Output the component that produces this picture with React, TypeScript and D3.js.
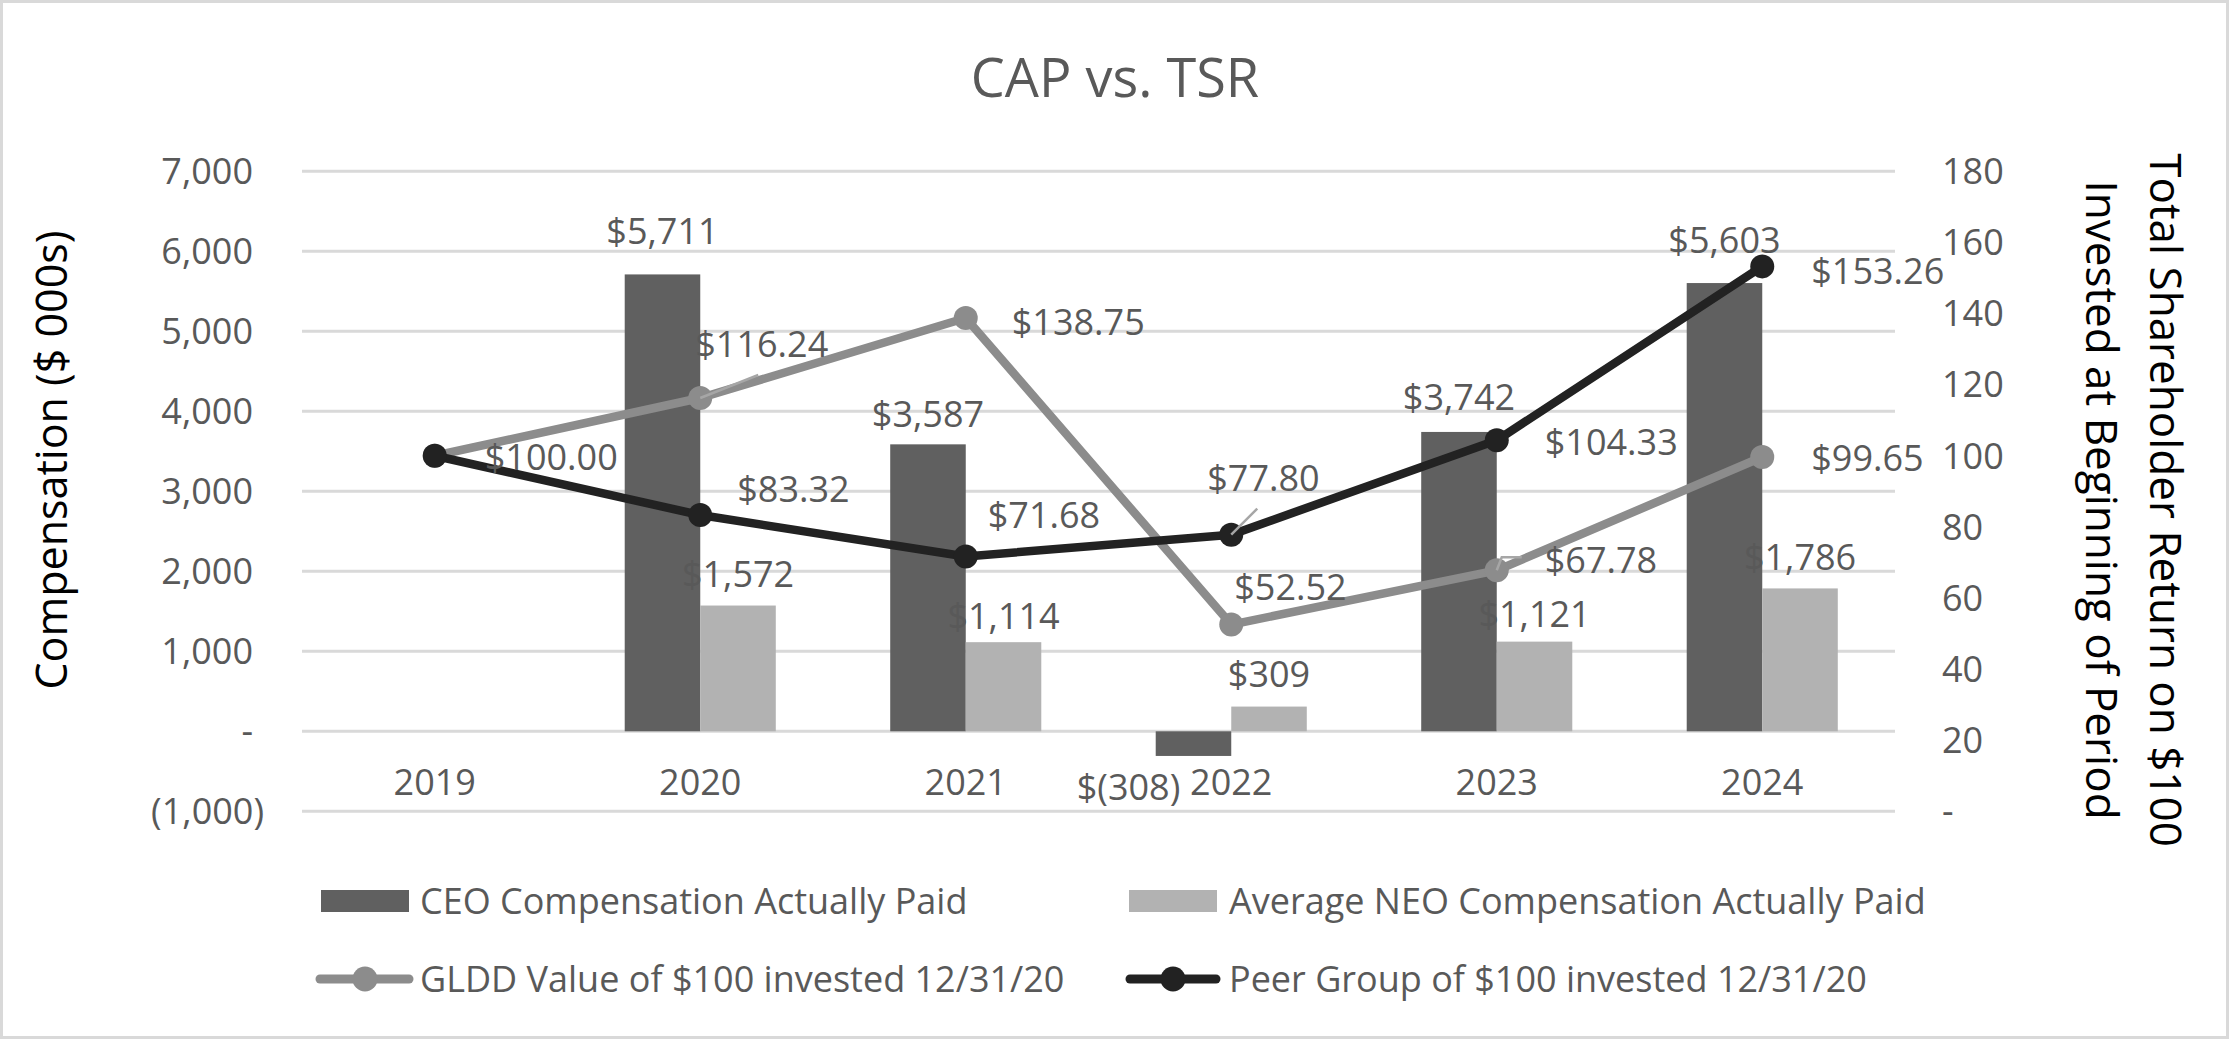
import React, { useEffect } from 'react';
import * as d3 from 'd3';

// ---------- data ----------
const years = ['2019', '2020', '2021', '2022', '2023', '2024'];
const ceoCap: (number | null)[] = [null, 5711, 3587, -308, 3742, 5603];
const neoCap: (number | null)[] = [null, 1572, 1114, 309, 1121, 1786];
const glddTsr = [100, 116.24, 138.75, 52.52, 67.78, 99.65];
const peerTsr = [100, 83.32, 71.68, 77.8, 104.33, 153.26];
const leftTicks = [-1000, 0, 1000, 2000, 3000, 4000, 5000, 6000, 7000];
const rightTicks = [0, 20, 40, 60, 80, 100, 120, 140, 160, 180];
const seriesNames = [
  'CEO Compensation Actually Paid',
  'Average NEO Compensation Actually Paid',
  'GLDD Value of $100 invested 12/31/20',
  'Peer Group of $100 invested 12/31/20',
];
const titleText = 'CAP vs. TSR';
const leftTitle = 'Compensation ($ 000s)';
const rightTitleLines = ['Total Shareholder Return on $100', 'Invested at Beginning of Period'];

// label nudges (placement only): [dx, dy]
const ceoLabelNudge: ([number, number] | null)[] = [null, [0, -43], [0, -30], [-65, 31], [0, -35], [0, -43]];
const neoLabelNudge: ([number, number] | null)[] = [null, [0, -31], [0, -26], [0, -32], [0, -27], [0, -31]];
const glddLabelNudge: ([number, number] | null)[] = [null, [-5, -54], [46, 4], [3, -37], [48, -10], [49, 1]];
const peerLabelNudge: ([number, number] | null)[] = [[50, 1], [37, -26], [22, -41], [-24, -57], [48, 2], [49, 5]];
const glddLeaders: ([number, number][] | null)[] = [null, [[58, -23]], null, null, [[5, -13], [25, -13]], null];
const peerLeaders: ([number, number][] | null)[] = [null, null, null, [[26, -26]], null, null];

// ---------- style ----------
const W = 2229;
const H = 1039;
const FONT = "'Open Sans', 'Noto Sans', sans-serif";
const FS = 36;
const TXT = '#595959';
const GRID = '#d9d9d9';
const CEO_C = '#606060';
const NEO_C = '#b2b2b2';
const GLDD_C = '#8c8c8c';
const PEER_C = '#222222';
const LEADER_C = '#a6a6a6';
const cap = (fs: number) => fs * 0.357;

export default function App() {
  useEffect(() => {
    document.body.style.margin = '0';
    document.body.style.overflow = 'hidden';
  }, []);

  const x = d3.scaleBand<string>().domain(years).range([302, 1895]).paddingInner(0).paddingOuter(0);
  const yL = d3.scaleLinear().domain([-1000, 7000]).range([811.3, 171.3]);
  const yR = d3.scaleLinear().domain([0, 180]).range([811.3, 171.3]);
  const bw = x.bandwidth() * 0.2845;
  const cx = (y: string) => (x(y) as number) + x.bandwidth() / 2;
  const fmt = d3.format(',');
  const leftFmt = (v: number) => (v === 0 ? '-' : v < 0 ? `(${fmt(-v)})` : fmt(v));
  const barFmt = (v: number) => (v < 0 ? `$(${fmt(-v)})` : `$${fmt(v)}`);
  const lineGen = d3
    .line<number>()
    .x((_, i) => cx(years[i]))
    .y((d) => yR(d));

  const bars = (vals: (number | null)[], off: number, color: string) =>
    vals.map((v, i) => {
      if (v == null) return null;
      const x0 = cx(years[i]) + off;
      const y0 = Math.min(yL(v), yL(0));
      const h = Math.abs(yL(v) - yL(0));
      return <rect key={i} x={x0} y={y0} width={bw} height={h} fill={color} />;
    });

  const barLabels = (vals: (number | null)[], off: number, nudges: ([number, number] | null)[]) =>
    vals.map((v, i) => {
      const n = nudges[i];
      if (v == null || !n) return null;
      const c = cx(years[i]) + off + bw / 2 + n[0];
      const yc = yL(v) + n[1];
      return (
        <text key={i} x={c} y={yc + cap(FS)} textAnchor="middle" fontSize={FS} fill={TXT}>
          {barFmt(v)}
        </text>
      );
    });

  const lineLabels = (vals: number[], nudges: ([number, number] | null)[]) =>
    vals.map((v, i) => {
      const n = nudges[i];
      if (!n) return null;
      return (
        <text key={i} x={cx(years[i]) + n[0]} y={yR(v) + n[1] + cap(FS)} textAnchor="start" fontSize={FS} fill={TXT}>
          {`$${v.toFixed(2)}`}
        </text>
      );
    });

  const leaders = (vals: number[], segs: ([number, number][] | null)[]) =>
    vals.map((v, i) => {
      const s = segs[i];
      if (!s) return null;
      const px = cx(years[i]);
      const py = yR(v);
      const pts = [[px, py], ...s.map(([dx, dy]) => [px + dx, py + dy])];
      return (
        <polyline key={i} points={pts.map((p) => p.join(',')).join(' ')} fill="none" stroke={LEADER_C} strokeWidth={2.5} />
      );
    });

  const markers = (vals: number[], color: string) =>
    vals.map((v, i) => <circle key={i} cx={cx(years[i])} cy={yR(v)} r={12} fill={color} />);

  const legendRow1 = 901;
  const legendRow2 = 979;

  return (
    <svg width={W} height={H} viewBox={`0 0 ${W} ${H}`} style={{ display: 'block', fontFamily: FONT }}>
      <rect x={0} y={0} width={W} height={H} fill="#ffffff" />
      <rect x={1.5} y={1.5} width={W - 3} height={H - 3} fill="none" stroke={GRID} strokeWidth={3} />

      {/* title */}
      <text x={1115} y={97} textAnchor="middle" fontSize={54} fill={TXT}>
        {titleText}
      </text>

      {/* gridlines */}
      {leftTicks.map((t) => (
        <line key={t} x1={302} x2={1895} y1={yL(t)} y2={yL(t)} stroke={GRID} strokeWidth={3} />
      ))}

      {/* left tick labels */}
      {leftTicks.map((t) => (
        <text key={t} x={t < 0 ? 264 : 253} y={yL(t) + cap(FS)} textAnchor="end" fontSize={FS} fill={TXT}>
          {leftFmt(t)}
        </text>
      ))}

      {/* right tick labels */}
      {rightTicks.map((t) => (
        <text key={t} x={1942} y={yR(t) + cap(FS)} textAnchor="start" fontSize={FS} fill={TXT}>
          {t === 0 ? '-' : String(t)}
        </text>
      ))}

      {/* category labels */}
      {years.map((yr) => (
        <text key={yr} x={cx(yr)} y={782 + cap(FS)} textAnchor="middle" fontSize={FS} fill={TXT}>
          {yr}
        </text>
      ))}

      {/* bars */}
      {bars(ceoCap, -bw, CEO_C)}
      {bars(neoCap, 0, NEO_C)}

      {/* lines */}
      <path d={lineGen(glddTsr) || ''} fill="none" stroke={GLDD_C} strokeWidth={8.5} strokeLinejoin="round" />
      {markers(glddTsr, GLDD_C)}
      <path d={lineGen(peerTsr) || ''} fill="none" stroke={PEER_C} strokeWidth={8.5} strokeLinejoin="round" />
      {markers(peerTsr, PEER_C)}

      {/* leader lines */}
      {leaders(glddTsr, glddLeaders)}
      {leaders(peerTsr, peerLeaders)}

      {/* data labels */}
      {barLabels(ceoCap, -bw, ceoLabelNudge)}
      {barLabels(neoCap, 0, neoLabelNudge)}
      {lineLabels(glddTsr, glddLabelNudge)}
      {lineLabels(peerTsr, peerLabelNudge)}

      {/* axis titles */}
      <g transform={`translate(52,460) rotate(-90)`}>
        <text x={0} y={cap(43)} textAnchor="middle" fontSize={43} fill="#000000">
          {leftTitle}
        </text>
      </g>
      <g transform={`translate(2166,500) rotate(90)`}>
        <text x={0} y={cap(44)} textAnchor="middle" fontSize={44} fill="#000000">
          {rightTitleLines[0]}
        </text>
      </g>
      <g transform={`translate(2102,500) rotate(90)`}>
        <text x={0} y={cap(44)} textAnchor="middle" fontSize={44} fill="#000000">
          {rightTitleLines[1]}
        </text>
      </g>

      {/* legend */}
      <rect x={321} y={legendRow1 - 11} width={88} height={22} fill={CEO_C} />
      <text x={420} y={legendRow1 + cap(FS)} fontSize={FS} fill={TXT}>
        {seriesNames[0]}
      </text>
      <rect x={1129} y={legendRow1 - 11} width={88} height={22} fill={NEO_C} />
      <text x={1229} y={legendRow1 + cap(FS)} fontSize={FS} fill={TXT}>
        {seriesNames[1]}
      </text>
      <line x1={320} x2={409} y1={legendRow2} y2={legendRow2} stroke={GLDD_C} strokeWidth={9} strokeLinecap="round" />
      <circle cx={365} cy={legendRow2} r={12.5} fill={GLDD_C} />
      <text x={420} y={legendRow2 + cap(FS)} fontSize={FS} fill={TXT}>
        {seriesNames[2]}
      </text>
      <line x1={1130} x2={1216} y1={legendRow2} y2={legendRow2} stroke={PEER_C} strokeWidth={9} strokeLinecap="round" />
      <circle cx={1173} cy={legendRow2} r={12.5} fill={PEER_C} />
      <text x={1229} y={legendRow2 + cap(FS)} fontSize={FS} fill={TXT}>
        {seriesNames[3]}
      </text>
    </svg>
  );
}
